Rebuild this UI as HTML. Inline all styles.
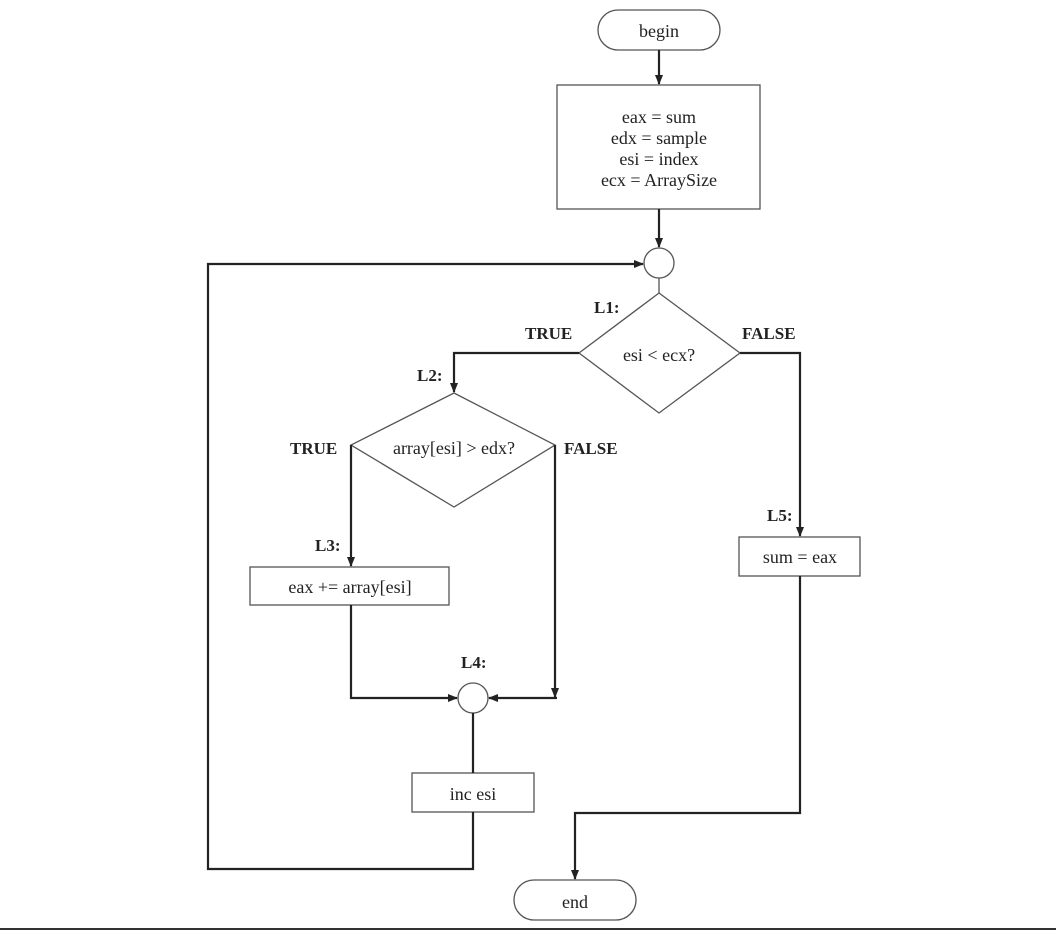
<!DOCTYPE html>
<html><head><meta charset="utf-8"><style>
html,body{margin:0;padding:0;background:#fff;}
svg{display:block}
text{font-family:"Liberation Serif",serif;font-size:18px;fill:#222}
.b{font-weight:bold;font-size:17px}
</style></head><body>
<svg width="1056" height="931" viewBox="0 0 1056 931">
<defs><marker id="a" markerWidth="10" markerHeight="10" refX="9" refY="5" orient="auto" markerUnits="userSpaceOnUse"><path d="M0,1 L10,5 L0,9 Z" fill="#222"/></marker></defs>
<g fill="none" stroke="#555" stroke-width="1.3">
<rect x="598" y="10" width="122" height="40" rx="20"/>
<rect x="557" y="85" width="203" height="124"/>
<circle cx="659" cy="263" r="15"/>
<line x1="659" y1="278" x2="659" y2="293"/>
<polygon points="659,293 740,353 659,413 579,353"/>
<polygon points="454,393 555,445 454,507 351,445"/>
<rect x="250" y="567" width="199" height="38"/>
<circle cx="473" cy="698" r="15"/>
<rect x="412" y="773" width="122" height="39"/>
<rect x="739" y="537" width="121" height="39"/>
<rect x="514" y="880" width="122" height="40" rx="20"/>
</g>
<g fill="none" stroke="#222" stroke-width="2.2">
<line x1="659" y1="50" x2="659" y2="84" marker-end="url(#a)"/>
<line x1="659" y1="209" x2="659" y2="247" marker-end="url(#a)"/>
<polyline points="579,353 454,353 454,392" marker-end="url(#a)"/>
<polyline points="351,445 351,566" marker-end="url(#a)"/>
<polyline points="351,605 351,698 457,698" marker-end="url(#a)"/>
<polyline points="555,445 555,697" marker-end="url(#a)"/>
<polyline points="557,698 489,698" marker-end="url(#a)"/>
<polyline points="473,713 473,773"/>
<polyline points="473,812 473,869 208,869 208,264 643,264" marker-end="url(#a)"/>
<polyline points="740,353 800,353 800,536" marker-end="url(#a)"/>
<polyline points="800,576 800,813 575,813 575,879" marker-end="url(#a)"/>
</g>
<line x1="0" y1="929" x2="1056" y2="929" stroke="#333" stroke-width="2"/>
<g text-anchor="middle">
<text x="659" y="37">begin</text>
<text x="659" y="123">eax = sum</text>
<text x="659" y="144">edx = sample</text>
<text x="659" y="165">esi = index</text>
<text x="659" y="186">ecx = ArraySize</text>
<text x="659" y="361">esi &lt; ecx?</text>
<text x="454" y="454">array[esi] &gt; edx?</text>
<text x="350" y="593">eax += array[esi]</text>
<text x="473" y="800">inc esi</text>
<text x="800" y="563">sum = eax</text>
<text x="575" y="908">end</text>
</g>
<text class="b" x="594" y="313">L1:</text>
<text class="b" x="525" y="339">TRUE</text>
<text class="b" x="742" y="339">FALSE</text>
<text class="b" x="417" y="381">L2:</text>
<text class="b" x="290" y="454">TRUE</text>
<text class="b" x="564" y="454">FALSE</text>
<text class="b" x="315" y="551">L3:</text>
<text class="b" x="461" y="668">L4:</text>
<text class="b" x="767" y="521">L5:</text>
</svg>
</body></html>
